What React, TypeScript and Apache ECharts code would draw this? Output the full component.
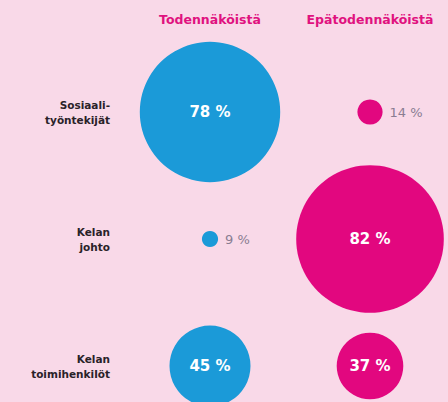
import React, { useEffect, useRef } from "react";
import * as echarts from "echarts";

const columns = ["Todennäköistä", "Epätodennäköistä"];
const rows = ["Sosiaali-\ntyöntekijät", "Kelan\njohto", "Kelan\ntoimihenkilöt"];
const likely = [78, 9, 45];
const unlikely = [14, 82, 37];

const BLUE = "#1b9ad8";
const PINK = "#e2077f";

function makeData(values: number[], col: number) {
  return values.map((v, i) => ({
    value: [col, i, v],
    label:
      v > 30
        ? { show: true, position: "inside", color: "#ffffff", fontSize: 15, fontWeight: "bold" }
        : { show: true, position: "right", distance: 7, color: "#8a7d92", fontSize: 13, fontWeight: "normal" },
  }));
}

export default function App() {
  const ref = useRef<HTMLDivElement>(null);
  useEffect(() => {
    if (!ref.current) return;
    const chart = echarts.init(ref.current, null, { renderer: "svg" });
    chart.setOption({
      animation: false,
      backgroundColor: "#f9d9e8",
      textStyle: { fontFamily: "DejaVu Sans" },
      grid: { left: 210, right: 78, top: 112, bottom: 36 },
      xAxis: {
        type: "category",
        data: columns,
        position: "top",
        boundaryGap: false,
        axisLine: { show: false },
        axisTick: { show: false },
        splitLine: { show: false },
        axisLabel: {
          color: "#e0127f",
          fontSize: 12.5,
          fontWeight: "bold",
          margin: 86,
          interval: 0,
          hideOverlap: false,
          showMinLabel: true,
          showMaxLabel: true,
        },
      },
      yAxis: {
        type: "category",
        data: rows,
        inverse: true,
        boundaryGap: false,
        axisLine: { show: false },
        axisTick: { show: false },
        splitLine: { show: false },
        axisLabel: {
          color: "#2a2228",
          fontSize: 10.5,
          fontWeight: "bold",
          lineHeight: 15,
          align: "right",
          margin: 100,
          interval: 0,
        },
      },
      series: [
        {
          type: "scatter",
          data: makeData(likely, 0),
          symbolSize: (d: number[]) => d[2] * 1.8,
          itemStyle: { color: BLUE, opacity: 1 },
          label: { formatter: (p: any) => p.value[2] + " %" },
        },
        {
          type: "scatter",
          data: makeData(unlikely, 1),
          symbolSize: (d: number[]) => d[2] * 1.8,
          itemStyle: { color: PINK, opacity: 1 },
          label: { formatter: (p: any) => p.value[2] + " %" },
        },
      ],
    });
    return () => chart.dispose();
  }, []);
  return (
    <div
      ref={ref}
      style={{ position: "fixed", left: 0, top: 0, width: 448, height: 402 }}
    />
  );
}
